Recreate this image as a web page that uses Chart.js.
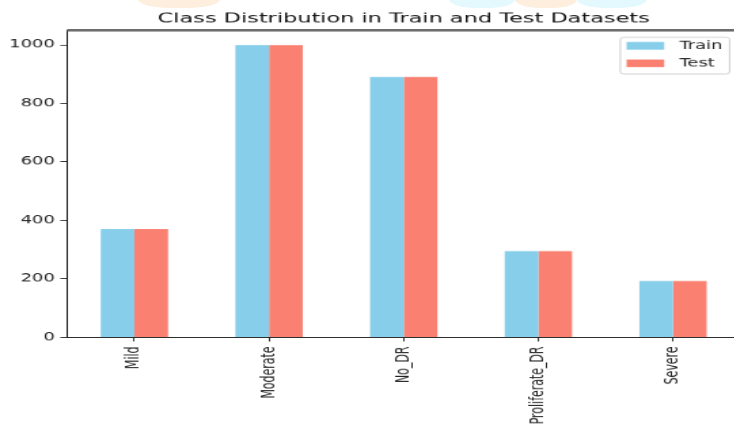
<!DOCTYPE html>
<html><head><meta charset="utf-8">
<script src="https://cdn.jsdelivr.net/npm/chart.js@4.4.0/dist/chart.umd.min.js"></script>
<style>
html,body{margin:0;padding:0;background:#fff;overflow:hidden;width:734px;height:430px}
#wrap{position:relative;width:734px;height:430px;overflow:hidden;background:#fff}
#c{position:absolute;left:0;top:0}
.wm{position:absolute;top:-14px;height:22px;border-radius:0 0 40% 40%}
</style></head>
<body><div id="wrap">
<div class="wm" style="left:138px;width:82px;background:#fdeedd"></div>
<div class="wm" style="left:449px;width:66px;background:#e3f9fd"></div>
<div class="wm" style="left:515px;width:62px;background:#fdeedd"></div>
<div class="wm" style="left:577px;width:70px;background:#e3f9fd"></div>
<canvas id="c" width="548" height="518" style="width:743.6px;height:430px"></canvas></div>
<script>
const categories = ['Mild', 'Moderate', 'No_DR', 'Proliferate_DR', 'Severe'];
const trainCounts = [370, 999, 890, 295, 193];
const testCounts = [370, 999, 890, 295, 193];
const seriesNames = ['Train', 'Test'];
const yTickValues = [0, 200, 400, 600, 800, 1000];
const chartTitle = 'Class Distribution in Train and Test Datasets';

const FS = 13.2;
const FONT = "'DejaVu Sans', sans-serif";

const framePlugin = {
  id: 'axesFrame',
  afterDraw(chart) {
    const {ctx, chartArea: a} = chart;
    ctx.save();
    ctx.strokeStyle = '#6e6e6e';
    ctx.lineWidth = 3;
    ctx.beginPath();
    ctx.moveTo(a.left, a.top);
    ctx.lineTo(a.right, a.top);
    ctx.moveTo(a.right - 1, a.top);
    ctx.lineTo(a.right - 1, a.bottom);
    ctx.stroke();
    ctx.restore();
  }
};

const legendPlugin = {
  id: 'boxLegend',
  afterDraw(chart) {
    const {ctx, chartArea: a} = chart;
    const ds = chart.data.datasets;
    ctx.save();
    ctx.font = FS + 'px ' + FONT;
    const tw = Math.max(...ds.map(d => ctx.measureText(d.label).width));
    const w = FS * (0.35 + 2.1 + 0.85 + 0.4) + tw;
    const rowGap = 1.6 * FS;
    const h = FS * (0.77 + 0.97) + rowGap * (ds.length - 1);
    const x = a.right - 0.6 * FS - w;
    const y = a.top + 0.65 * FS;
    ctx.beginPath();
    ctx.roundRect(x, y, w, h, 0.2 * FS);
    ctx.fillStyle = 'rgba(255,255,255,0.8)';
    ctx.fill();
    ctx.strokeStyle = '#cccccc';
    ctx.lineWidth = 1;
    ctx.stroke();
    ds.forEach((d, i) => {
      const cy = y + 0.77 * FS + i * rowGap;
      ctx.fillStyle = d.backgroundColor;
      ctx.fillRect(x + 0.35 * FS, cy - 0.35 * FS, 2.1 * FS, 0.7 * FS);
      ctx.fillStyle = '#222';
      ctx.textBaseline = 'middle';
      ctx.textAlign = 'left';
      ctx.fillText(d.label, x + (0.35 + 2.1 + 0.85) * FS, cy);
    });
    ctx.restore();
  }
};

new Chart(document.getElementById('c'), {
  type: 'bar',
  data: {
    labels: categories,
    datasets: [
      {label: seriesNames[0], data: trainCounts, backgroundColor: '#87CEEB', borderWidth: 0, categoryPercentage: 0.5, barPercentage: 1.0},
      {label: seriesNames[1], data: testCounts, backgroundColor: '#FA8072', borderWidth: 0, categoryPercentage: 0.5, barPercentage: 1.0}
    ]
  },
  options: {
    responsive: false,
    devicePixelRatio: 1,
    animation: false,
    layout: {padding: {left: 0, right: 2.7, top: 0, bottom: 0}},
    plugins: {
      legend: {display: false},
      tooltip: {enabled: false},
      title: {
        display: true, text: chartTitle, fullSize: false, color: '#111',
        font: {family: FONT, size: 16.5, weight: 'normal', lineHeight: 1.2},
        padding: {top: 12.6, bottom: 4.0}
      }
    },
    scales: {
      x: {
        offset: true,
        grid: {display: true, offset: false, drawOnChartArea: false, drawTicks: true, tickLength: 5, color: '#333'},
        border: {display: true, color: '#222', width: 1},
        ticks: {minRotation: 90, maxRotation: 90, autoSkip: false, padding: 6, color: '#222', font: {family: FONT, size: FS}},
        afterFit(s) { s.height = 518 - 406.4; }
      },
      y: {
        min: 0, max: 1050,
        grid: {display: true, drawOnChartArea: false, drawTicks: true, tickLength: 5, color: '#333'},
        border: {display: true, color: '#111', width: 1},
        ticks: {padding: 4, color: '#222', font: {family: FONT, size: FS}, callback: v => String(v)},
        afterBuildTicks(s) { s.ticks = yTickValues.map(v => ({value: v})); },
        afterFit(s) { s.width = 49.4; }
      }
    }
  },
  plugins: [framePlugin, legendPlugin]
});
</script>
</body></html>
